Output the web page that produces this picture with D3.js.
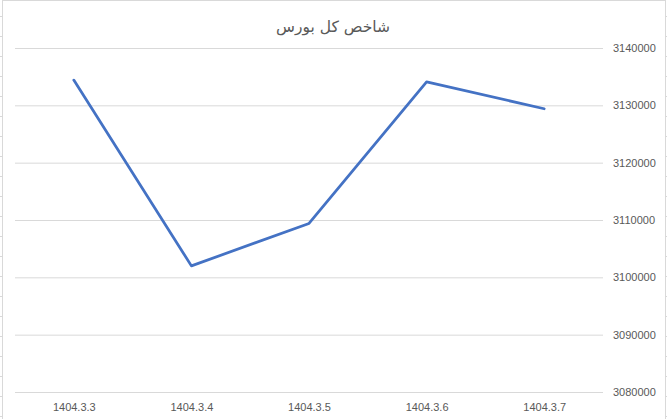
<!DOCTYPE html>
<html>
<head>
<meta charset="utf-8">
<script src="https://cdn.jsdelivr.net/npm/d3@7"></script>
<style>
  html, body { margin: 0; padding: 0; background: #fff; }
  svg { display: block; }
  .tick-label { font-family: "Liberation Sans", Arial, sans-serif; font-size: 11px; fill: #595959; }
  .title { font-family: "DejaVu Sans", sans-serif; font-size: 15.5px; fill: #595959; }
</style>
</head>
<body>
<svg id="chart" width="667" height="419"></svg>
<script>
// data
const categories = ['1404.3.3', '1404.3.4', '1404.3.5', '1404.3.6', '1404.3.7'];
const values = [3134400, 3102000, 3109400, 3134100, 3129400];
const yTicks = [3080000, 3090000, 3100000, 3110000, 3120000, 3130000, 3140000];
const title = 'شاخص کل بورس';

const W = 667, H = 419;
const plot = { left: 15, right: 603, top: 48, bottom: 392 };

const svg = d3.select('#chart');

svg.append('rect')
  .attr('width', W).attr('height', H)
  .attr('fill', '#fff');

// chart-area frame and the worksheet row lines peeking at the edges
svg.append('rect')
  .attr('x', 2.5).attr('y', 0.5)
  .attr('width', W - 4).attr('height', H)
  .attr('fill', 'none')
  .attr('stroke', '#d9d9d9');

const rows = d3.range(16, H, 20);
svg.append('g').selectAll('line')
  .data(rows)
  .join('line')
  .attr('x1', 0).attr('x2', 2)
  .attr('y1', d => d + 0.5).attr('y2', d => d + 0.5)
  .attr('stroke', '#d9d9d9');
svg.append('g').selectAll('line')
  .data(rows)
  .join('line')
  .attr('x1', W - 1).attr('x2', W)
  .attr('y1', d => d + 0.5).attr('y2', d => d + 0.5)
  .attr('stroke', '#d9d9d9');

const x = d3.scalePoint()
  .domain(categories)
  .range([plot.left, plot.right])
  .padding(0.5);

const y = d3.scaleLinear()
  .domain([d3.min(yTicks), d3.max(yTicks)])
  .range([plot.bottom, plot.top]);

// horizontal gridlines + right-hand value labels
const yAxis = d3.axisRight(y)
  .tickValues(yTicks)
  .tickFormat(d3.format('d'))
  .tickSize(-(plot.right - plot.left))
  .tickPadding(10);

const gy = svg.append('g')
  .attr('transform', `translate(${plot.right},0)`)
  .call(yAxis);
gy.select('.domain').remove();
gy.selectAll('.tick line').attr('stroke', '#d9d9d9').attr('stroke-width', 1);
gy.selectAll('.tick text')
  .attr('class', 'tick-label')
  .attr('fill', null);
gy.attr('font-family', null).attr('font-size', null);

// category labels under the plot
const xAxis = d3.axisBottom(x).tickSize(0).tickPadding(11);
const gx = svg.append('g')
  .attr('transform', `translate(0,${plot.bottom})`)
  .call(xAxis);
gx.select('.domain').remove();
gx.attr('font-family', null).attr('font-size', null);
gx.selectAll('.tick text')
  .attr('class', 'tick-label')
  .attr('fill', null);

// series line
const line = d3.line()
  .x((d, i) => x(categories[i]))
  .y(d => y(d));

svg.append('path')
  .datum(values)
  .attr('d', line)
  .attr('fill', 'none')
  .attr('stroke', '#4472C4')
  .attr('stroke-width', 2.75)
  .attr('stroke-linejoin', 'round')
  .attr('stroke-linecap', 'round');

svg.append('text')
  .attr('class', 'title')
  .attr('x', 333)
  .attr('y', 32)
  .attr('text-anchor', 'middle')
  .attr('direction', 'rtl')
  .text(title);
</script>
</body>
</html>
